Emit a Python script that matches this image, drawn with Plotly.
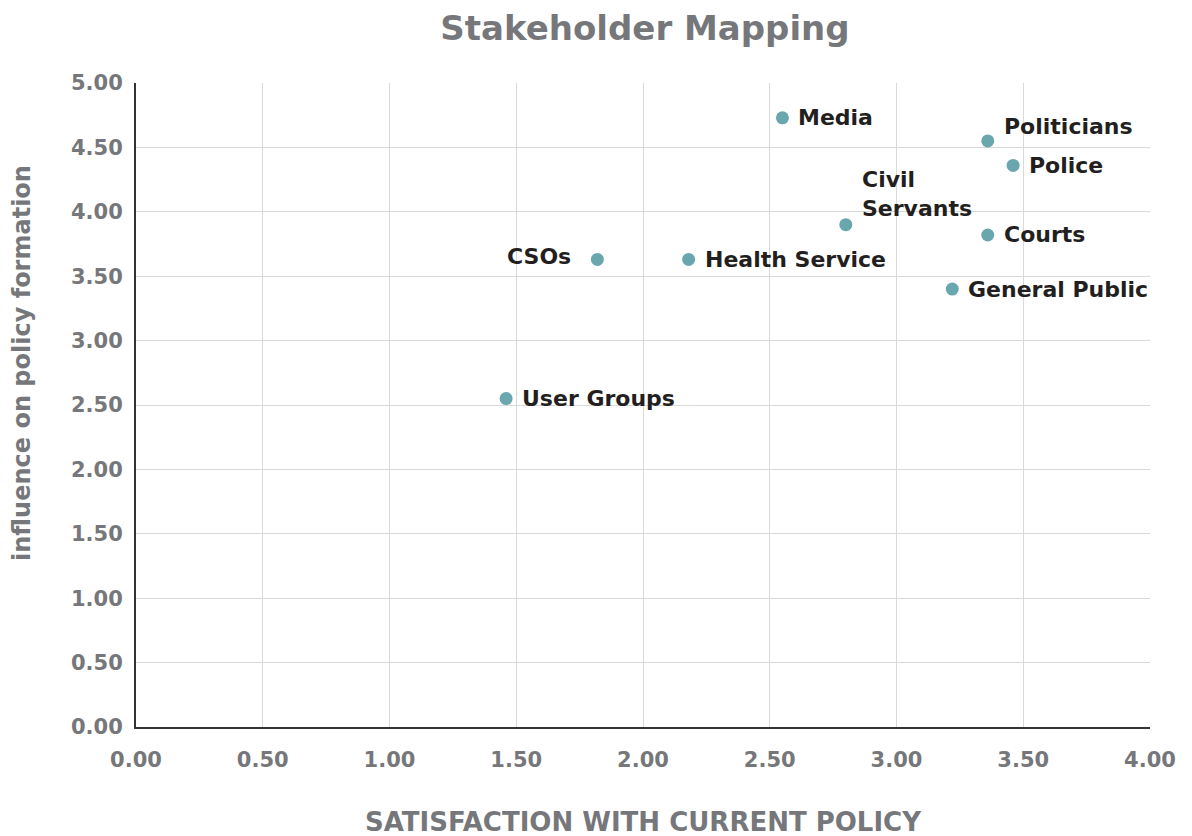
import plotly.graph_objects as go

stakeholders = ["Media", "Politicians", "Police", "Civil<br>Servants", "Courts",
                "General Public", "CSOs", "Health Service", "User Groups"]
satisfaction = [2.55, 3.36, 3.46, 2.80, 3.36, 3.22, 1.82, 2.18, 1.46]
influence = [4.73, 4.55, 4.36, 3.90, 3.82, 3.40, 3.63, 3.63, 2.55]
tick_vals = [0, 0.5, 1, 1.5, 2, 2.5, 3, 3.5, 4]
y_tick_vals = [0, 0.5, 1, 1.5, 2, 2.5, 3, 3.5, 4, 4.5, 5]

FONT = "DejaVu Sans"
GRAY = "#76777b"

fig = go.Figure()
fig.add_trace(go.Scatter(
    x=satisfaction, y=influence, mode="markers",
    marker=dict(size=13, color="#6aa6ae"),
    hoverinfo="text", text=stakeholders, showlegend=False,
))

# label placement offsets (style only)
placement = {
    "Media": dict(xanchor="left", yanchor="middle", xshift=14, yshift=0),
    "Politicians": dict(xanchor="left", yanchor="middle", xshift=14, yshift=14),
    "Police": dict(xanchor="left", yanchor="middle", xshift=14, yshift=0),
    "Civil<br>Servants": dict(xanchor="left", yanchor="bottom", xshift=14, yshift=2),
    "Courts": dict(xanchor="left", yanchor="middle", xshift=14, yshift=0),
    "General Public": dict(xanchor="left", yanchor="middle", xshift=14, yshift=0),
    "CSOs": dict(xanchor="right", yanchor="middle", xshift=-24, yshift=3),
    "Health Service": dict(xanchor="left", yanchor="middle", xshift=14, yshift=0),
    "User Groups": dict(xanchor="left", yanchor="middle", xshift=14, yshift=0),
}
for name, x, y in zip(stakeholders, satisfaction, influence):
    p = placement[name]
    fig.add_annotation(
        x=x, y=y, text=name, showarrow=False, align="left",
        font=dict(family=FONT, size=22, color="#231f20", weight="bold"),
        **p,
    )

W, H = 1184, 828
L, T, R, B = 128, 75, 42, 109
fig.add_annotation(
    xref="paper", yref="paper", x=-(L - 14) / (W - L - R), y=(719 - 355) / (H - T - B),
    text="influence on policy formation",
    textangle=-90, showarrow=False, xanchor="center", yanchor="middle",
    font=dict(family=FONT, size=24, color=GRAY, weight="bold"),
)
fig.add_annotation(
    xref="paper", yref="paper", x=0.5, y=0, yshift=-95,
    text="SATISFACTION WITH CURRENT POLICY",
    showarrow=False, xanchor="center", yanchor="middle",
    font=dict(family=FONT, size=26, color=GRAY, weight="bold"),
)

fig.update_layout(
    width=W, height=H,
    paper_bgcolor="white", plot_bgcolor="white",
    margin=dict(l=L, r=R, t=T, b=B, autoexpand=False),
    title=dict(text="Stakeholder Mapping", x=(637) / W, xanchor="center",
               y=1 - 20 / H, yanchor="middle",
               font=dict(family=FONT, size=34, color=GRAY, weight="bold")),
    xaxis=dict(
        range=[0, 4], tickvals=tick_vals, tickformat=".2f",
        showgrid=True, gridcolor="#d9d9d9", gridwidth=1,
        showline=True, linecolor="#333333", linewidth=2,
        zeroline=False, ticks="", ticklabelstandoff=13, automargin=False,
        tickfont=dict(family=FONT, size=21, color=GRAY, weight="bold"),
    ),
    yaxis=dict(
        range=[0, 5], tickvals=y_tick_vals, tickformat=".2f",
        showgrid=True, gridcolor="#d9d9d9", gridwidth=1,
        showline=True, linecolor="#333333", linewidth=2,
        zeroline=False, ticks="", ticklabelstandoff=7, automargin=False,
        tickfont=dict(family=FONT, size=21, color=GRAY, weight="bold"),
    ),
)

fig.write_html("out.html")
